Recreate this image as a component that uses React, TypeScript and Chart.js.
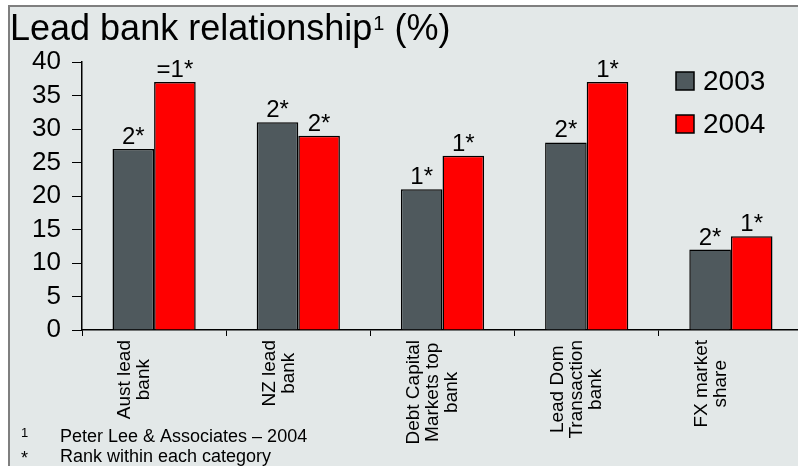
import React, { useEffect, useRef } from "react";
import { Chart, registerables } from "chart.js";

Chart.register(...registerables);

const categories: string[][] = [
  ["Aust lead", "bank"],
  ["NZ lead", "bank"],
  ["Debt Capital", "Markets top", "bank"],
  ["Lead Dom", "Transaction", "bank"],
  ["FX market", "share"],
];
const seriesNames = ["2003", "2004"];
const values2003 = [27, 31, 21, 28, 12];
const values2004 = [37, 29, 26, 37, 14];
const ranks2003 = ["2*", "2*", "1*", "2*", "2*"];
const ranks2004 = ["=1*", "2*", "1*", "1*", "1*"];
const yMin = 0;
const yMax = 40;
const yStep = 5;
const titleMain = "Lead bank relationship";
const titleSup = "1";
const titleTail = " (%)";
const footnotes = [
  { mark: "1", text: "Peter Lee & Associates \u2013 2004" },
  { mark: "*", text: "Rank within each category" },
];

const FONT = "'Liberation Sans', Arial, sans-serif";
const GRAY = "#4f595d";
const RED = "#ff0000";
const BG = "#e3e8e8";

const overlayPlugin = {
  id: "overlay",
  afterDatasetsDraw(chart: any) {
    const ctx = chart.ctx as CanvasRenderingContext2D;
    ctx.save();
    ctx.fillStyle = "#000";
    // rank labels
    const ranks = [ranks2003, ranks2004];
    ctx.font = `24px ${FONT}`;
    ctx.textAlign = "center";
    ctx.textBaseline = "alphabetic";
    chart.data.datasets.forEach((_: any, di: number) => {
      const meta = chart.getDatasetMeta(di);
      meta.data.forEach((el: any, i: number) => {
        ctx.fillText(ranks[di][i], el.x, el.y - 5);
      });
    });
    // category labels (rotated, centred lines)
    const xs = chart.scales.x;
    const axisY = chart.chartArea.bottom;
    ctx.font = `19px ${FONT}`;
    ctx.textAlign = "center";
    ctx.textBaseline = "middle";
    categories.forEach((lines, i) => {
      const cx = xs.getPixelForValue(i);
      const maxW = Math.max(...lines.map((l) => ctx.measureText(l).width));
      const cy = axisY + 10 + maxW / 2;
      lines.forEach((line, li) => {
        ctx.save();
        ctx.translate(cx - 29 + li * 19, cy);
        ctx.rotate(-Math.PI / 2);
        ctx.fillText(line, 0, 0);
        ctx.restore();
      });
    });
    // title
    ctx.textAlign = "left";
    ctx.textBaseline = "alphabetic";
    ctx.font = `36px ${FONT}`;
    let tx = 10;
    ctx.fillText(titleMain, tx, 40);
    tx += ctx.measureText(titleMain).width + 1;
    ctx.font = `20px ${FONT}`;
    ctx.fillText(titleSup, tx, 30);
    tx += ctx.measureText(titleSup).width;
    ctx.font = `36px ${FONT}`;
    ctx.fillText(titleTail, tx, 40);
    // legend
    const colors = [GRAY, RED];
    const legendY = [81, 124];
    seriesNames.forEach((name, i) => {
      ctx.fillStyle = colors[i];
      ctx.fillRect(676, legendY[i] - 9, 18, 18);
      ctx.strokeStyle = "#000";
      ctx.lineWidth = 1.5;
      ctx.strokeRect(676, legendY[i] - 9, 18, 18);
      ctx.fillStyle = "#000";
      ctx.font = `28px ${FONT}`;
      ctx.textBaseline = "middle";
      ctx.fillText(name, 703, legendY[i] + 1);
    });
    // footnotes
    ctx.textBaseline = "alphabetic";
    const fy = [442, 462];
    footnotes.forEach((f, i) => {
      ctx.font = f.mark === "*" ? `18px ${FONT}` : `13px ${FONT}`;
      ctx.fillText(f.mark, 21, f.mark === "*" ? fy[i] + 2 : fy[i] - 5);
      ctx.font = `18px ${FONT}`;
      ctx.fillText(f.text, 60, fy[i]);
    });
    ctx.restore();
  },
};

export default function App() {
  const ref = useRef<HTMLCanvasElement>(null);
  useEffect(() => {
    if (!ref.current) return;
    const chart = new Chart(ref.current, {
      type: "bar",
      data: {
        labels: categories.map((c) => c.join(" ")),
        datasets: [
          {
            label: seriesNames[0],
            data: values2003,
            backgroundColor: GRAY,
            borderColor: "#000",
            borderWidth: 1.5,
            categoryPercentage: 0.577,
            barPercentage: 1,
          },
          {
            label: seriesNames[1],
            data: values2004,
            backgroundColor: RED,
            borderColor: "#000",
            borderWidth: 1.5,
            categoryPercentage: 0.577,
            barPercentage: 1,
          },
        ],
      },
      options: {
        animation: false,
        responsive: false,
        maintainAspectRatio: false,
        devicePixelRatio: 1,
        layout: { padding: { left: 0, right: 7, top: 62, bottom: 0 } },
        plugins: {
          legend: { display: false },
          title: { display: false },
          tooltip: { enabled: false },
        },
        scales: {
          x: {
            grid: {
              display: true,
              drawOnChartArea: false,
              drawTicks: true,
              tickLength: 6,
              color: "#000",
              offset: true,
            },
            border: { display: true, color: "#000", width: 1.5 },
            ticks: { display: false },
            afterFit: (s: any) => {
              s.height = 136;
            },
          },
          y: {
            min: yMin,
            max: yMax,
            ticks: {
              stepSize: yStep,
              autoSkip: false,
              color: "#000",
              font: { family: FONT, size: 26 },
              padding: 11,
            },
            grid: {
              display: true,
              drawOnChartArea: false,
              drawTicks: true,
              tickLength: 10,
              color: "#000",
            },
            border: { display: true, color: "#000", width: 1.5 },
            afterFit: (s: any) => {
              s.width = 82;
            },
          },
        },
      },
      plugins: [overlayPlugin],
    });
    return () => chart.destroy();
  }, []);
  return (
    <div
      style={{
        position: "fixed",
        left: 0,
        top: 0,
        width: 798,
        height: 466,
        overflow: "hidden",
        background: "#fff",
      }}
    >
      <div
        style={{
          position: "absolute",
          left: 8,
          top: 5,
          width: 820,
          height: 480,
          background: BG,
          borderTop: "2px solid #7f7f7f",
          borderLeft: "2px solid #7f7f7f",
        }}
      />
      <canvas
        ref={ref}
        width={810}
        height={466}
        style={{ position: "absolute", left: 0, top: 0, width: 810, height: 466 }}
      />
    </div>
  );
}
